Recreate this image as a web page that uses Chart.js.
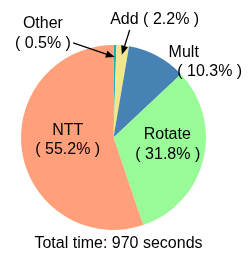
<!DOCTYPE html>
<html>
<head>
<meta charset="utf-8">
<script src="https://cdn.jsdelivr.net/npm/chart.js@4/dist/chart.umd.min.js"></script>
<style>
  html, body { margin: 0; padding: 0; background: #fff; }
  canvas { display: block; }
</style>
</head>
<body>
<canvas id="pieChart" width="249" height="264"></canvas>
<script>
// Data
const categories = ['Other', 'Add', 'Mult', 'Rotate', 'NTT'];
const shares = [0.5, 2.2, 10.3, 31.8, 55.2];
const totalSeconds = 970;
const sliceColors = ['#20b2aa', '#f0e68c', '#4682b4', '#98fb98', '#ffa07a'];

// Label placement, as fractions of the radius from the pie centre.
// one entry per text line; 'arrow' = [from, tip radius factor]
const labelSpots = [
    { lines: [[-0.763, -1.227], [-0.763, -1.01]], arrow: [[-0.436, -1.022], 0.87] },
    { lines: [[0.445, -1.27]], oneLine: true, arrow: [[0.175, -1.162], 0.9] },
    { lines: [[0.759, -0.914], [1.040, -0.708]] },
    { lines: [[0.581, -0.027], [0.587, 0.189]] },
    { lines: [[-0.495, -0.070], [-0.495, 0.135]] }
];

const FONT = '16px "Liberation Sans", Arial, Helvetica, sans-serif';

function drawArrow(ctx, x0, y0, x1, y1) {
    const ang = Math.atan2(y1 - y0, x1 - x0);
    const headLen = 9, headW = 3.5;
    const bx = x1 - headLen * Math.cos(ang);
    const by = y1 - headLen * Math.sin(ang);
    ctx.strokeStyle = '#000';
    ctx.lineWidth = 1.3;
    ctx.beginPath();
    ctx.moveTo(x0, y0);
    ctx.lineTo(bx, by);
    ctx.stroke();
    ctx.fillStyle = '#000';
    ctx.beginPath();
    ctx.moveTo(x1, y1);
    ctx.lineTo(bx + headW * Math.sin(ang), by - headW * Math.cos(ang));
    ctx.lineTo(bx - headW * Math.sin(ang), by + headW * Math.cos(ang));
    ctx.closePath();
    ctx.fill();
}

const sliceLabels = {
    id: 'sliceLabels',
    afterDatasetsDraw(chart) {
        const ctx = chart.ctx;
        const arcs = chart.getDatasetMeta(0).data;
        ctx.save();
        ctx.font = FONT;
        ctx.fillStyle = '#000';
        ctx.textAlign = 'center';
        ctx.textBaseline = 'middle';
        arcs.forEach((arc, i) => {
            const cx = arc.x, cy = arc.y, R = arc.outerRadius;
            const spot = labelSpots[i];
            const pct = '( ' + shares[i].toFixed(1) + '% )';
            const texts = spot.oneLine ? [categories[i] + ' ' + pct] : [categories[i], pct];
            texts.forEach((t, k) => {
                const p = spot.lines[k];
                ctx.fillStyle = '#000';
                ctx.fillText(t, cx + p[0] * R, cy + p[1] * R);
            });
            if (spot.arrow) {
                const mid = (arc.startAngle + arc.endAngle) / 2;
                const r = spot.arrow[1] * R;
                drawArrow(ctx,
                    cx + spot.arrow[0][0] * R, cy + spot.arrow[0][1] * R,
                    cx + r * Math.cos(mid), cy + r * Math.sin(mid));
            }
        });
        // title under the pie
        ctx.fillStyle = '#000';
        ctx.fillText('Total time: ' + totalSeconds + ' seconds', 118.5, 244);
        ctx.restore();
    }
};

new Chart(document.getElementById('pieChart'), {
    type: 'pie',
    data: {
        labels: categories,
        datasets: [{
            data: shares,
            backgroundColor: sliceColors,
            borderWidth: 0,
            hoverOffset: 0
        }]
    },
    options: {
        responsive: false,
        animation: false,
        layout: { padding: { left: 21, right: 43, top: 45, bottom: 34 } },
        plugins: {
            legend: { display: false },
            tooltip: { enabled: false },
            title: { display: false }
        }
    },
    plugins: [sliceLabels]
});
</script>
</body>
</html>
